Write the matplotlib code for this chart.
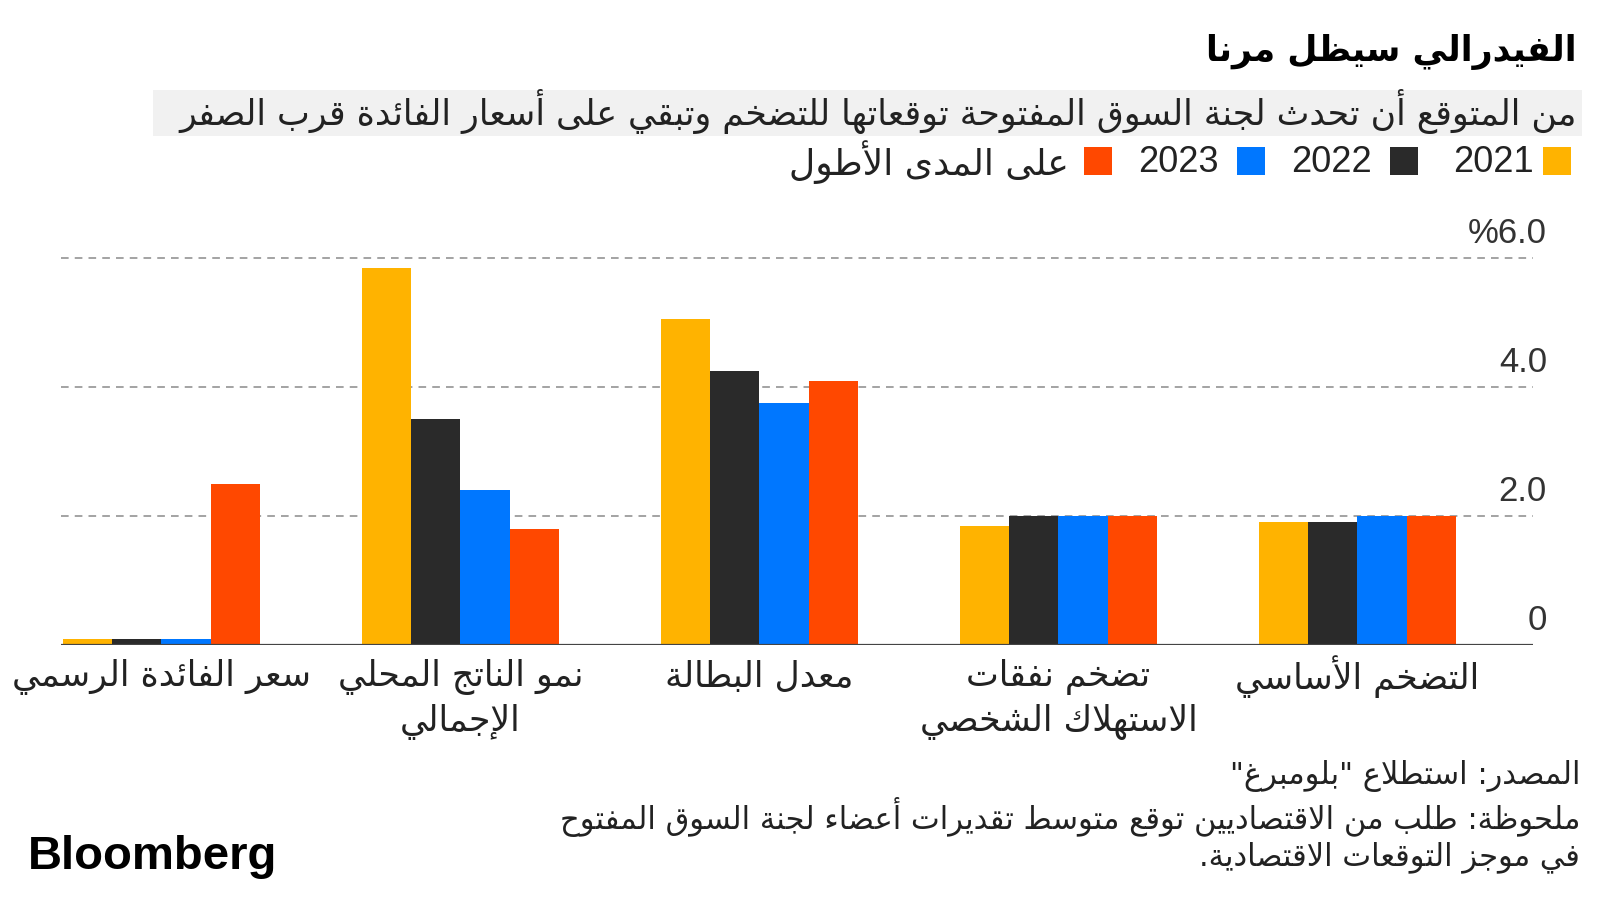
import re
import matplotlib
matplotlib.use("Agg")
import matplotlib.pyplot as plt
from matplotlib.patches import Rectangle
from matplotlib.transforms import blended_transform_factory

# ---- data -------------------------------------------------------------
categories = ["التضخم الأساسي", "تضخم نفقات\nالاستهلاك الشخصي", "معدل البطالة",
              "نمو الناتج المحلي\nالإجمالي", "سعر الفائدة الرسمي"]
y2021 = [1.9, 1.85, 5.05, 5.85, 0.1]
y2022 = [1.9, 2.0, 4.25, 3.5, 0.1]
y2023 = [2.0, 2.0, 3.75, 2.4, 0.1]
longer_run = [2.0, 2.0, 4.1, 1.8, 2.5]
series_names = ["2021", "2022", "2023", "على المدى الأطول"]
colors = ["#FFB300", "#2A2A2A", "#0077FF", "#FF4800"]
yticks = [0, 2, 4, 6]
ytick_labels = ["0", "2.0", "4.0", "%6.0"]

title = "الفيدرالي سيظل مرنا"
subtitle = "من المتوقع أن تُحدث لجنة السوق المفتوحة توقعاتها للتضخم وتبقي على أسعار الفائدة قرب الصفر"
source = "المصدر: استطلاع \"بلومبرغ\""
note1 = "ملحوظة: طُلب من الاقتصاديين توقع متوسط تقديرات أعضاء لجنة السوق المفتوح"
note2 = "في موجز التوقعات الاقتصادية."

# ---- minimal arabic shaping (presentation forms) + RTL ordering --------
_letters = [("ء", 0xFE80, "U"), ("آ", 0xFE81, "R"), ("أ", 0xFE83, "R"), ("ؤ", 0xFE85, "R"),
            ("إ", 0xFE87, "R"), ("ئ", 0xFE89, "D"), ("ا", 0xFE8D, "R"), ("ب", 0xFE8F, "D"),
            ("ة", 0xFE93, "R"), ("ت", 0xFE95, "D"), ("ث", 0xFE99, "D"), ("ج", 0xFE9D, "D"),
            ("ح", 0xFEA1, "D"), ("خ", 0xFEA5, "D"), ("د", 0xFEA9, "R"), ("ذ", 0xFEAB, "R"),
            ("ر", 0xFEAD, "R"), ("ز", 0xFEAF, "R"), ("س", 0xFEB1, "D"), ("ش", 0xFEB5, "D"),
            ("ص", 0xFEB9, "D"), ("ض", 0xFEBD, "D"), ("ط", 0xFEC1, "D"), ("ظ", 0xFEC5, "D"),
            ("ع", 0xFEC9, "D"), ("غ", 0xFECD, "D"), ("ف", 0xFED1, "D"), ("ق", 0xFED5, "D"),
            ("ك", 0xFED9, "D"), ("ل", 0xFEDD, "D"), ("م", 0xFEE1, "D"), ("ن", 0xFEE5, "D"),
            ("ه", 0xFEE9, "D"), ("و", 0xFEED, "R"), ("ى", 0xFEEF, "R"), ("ي", 0xFEF1, "D")]
BASE = {c: b for c, b, t in _letters}
JT = {c: t for c, b, t in _letters}
LAM_ALEF = {"آ": 0xFEF5, "أ": 0xFEF7, "إ": 0xFEF9, "ا": 0xFEFB}


def shape(s):
    s = "".join(c for c in s if not ("\u064B" <= c <= "\u0652"))
    units = []
    i = 0
    while i < len(s):
        if s[i] == "ل" and i + 1 < len(s) and s[i + 1] in LAM_ALEF:
            units.append(("LA", s[i + 1]))
            i += 2
        else:
            units.append(("C", s[i]))
            i += 1

    def jt(u):
        return "R" if u[0] == "LA" else JT.get(u[1])

    out = []
    for k, u in enumerate(units):
        t = jt(u)
        prev = jt(units[k - 1]) if k > 0 else None
        nxt = jt(units[k + 1]) if k + 1 < len(units) else None
        jp = prev == "D" and t in ("D", "R")
        jn = t == "D" and nxt in ("D", "R")
        if u[0] == "LA":
            out.append(chr(LAM_ALEF[u[1]] + (1 if jp else 0)))
        elif t is None:
            out.append(u[1])
        elif t == "U":
            out.append(chr(BASE[u[1]]))
        else:
            off = 3 if (jp and jn) else 2 if jn else 1 if jp else 0
            out.append(chr(BASE[u[1]] + off))
    return "".join(out)


def ar(s):
    runs = re.findall(r"[0-9]+|[^0-9]+", shape(s))
    return "".join(r if r.isdigit() else r[::-1] for r in reversed(runs))


# ---- figure -----------------------------------------------------------
W, H = 1600, 900
fig = plt.figure(figsize=(16, 9), dpi=100)
fig.patch.set_facecolor("white")


def fx(px):
    return px / W


def fy(py):
    return 1 - py / H


AR = ["DejaVu Sans"]
LAT = ["Liberation Sans", "DejaVu Sans"]
TXT = "#222222"

ax_l, ax_r, ax_t, ax_b = 61, 1533, 258, 645
ax = fig.add_axes([fx(ax_l), fy(ax_b), (ax_r - ax_l) / W, (ax_b - ax_t) / H])
ax.set_xlim(-0.336, 4.587)
ax.set_ylim(0, 6)
ax.axis("off")

n = len(categories)
xs = [n - 1 - i for i in range(n)]
w = 0.1646
for j, (vals, c) in enumerate(zip([y2021, y2022, y2023, longer_run], colors)):
    ax.bar([x + (j - 1.5) * w for x in xs], vals, width=w, color=c, zorder=2, linewidth=0)

for yv in yticks[1:]:
    ax.axhline(yv, color="#8a8a8a", lw=1.1, ls=(0, (5, 4)), zorder=1, clip_on=False)
ax.axhline(0, color="#444444", lw=1.6, zorder=3)

tr = blended_transform_factory(fig.transFigure, ax.transData)
for yv, lab in zip(yticks, ytick_labels):
    ax.text(fx(1547), yv + 0.24, lab, transform=tr, ha="right", va="baseline",
            fontsize=25, family=LAT, color="#333333")

trx = blended_transform_factory(ax.transData, fig.transFigure)
for x, cat in zip(xs, categories):
    for li, line in enumerate(cat.split("\n")):
        ax.text(x, fy(677 + 45 * li), ar(line), transform=trx, ha="center", va="center",
                fontsize=25, family=AR, color=TXT)

# title / subtitle
fig.text(fx(1577), fy(52), ar(title), ha="right", va="center", fontsize=25,
         fontweight="bold", family=AR, color="black")
fig.patches.append(Rectangle((fx(153), fy(136)), fx(1582 - 153), (136 - 90) / H,
                             transform=fig.transFigure, facecolor="#F1F1F1", edgecolor="none"))
fig.text(fx(1577), fy(112), ar(subtitle), ha="right", va="center", fontsize=25,
         family=AR, color=TXT)

# legend
sq = 28
legend_sq = [1543, 1390, 1237, 1084]
legend_txt = [1534, 1372, 1219, 1069]
for name, c, sx, tx in zip(series_names, colors, legend_sq, legend_txt):
    fig.patches.append(Rectangle((fx(sx), fy(161 + sq / 2)), sq / W, sq / H,
                                 transform=fig.transFigure, facecolor=c, edgecolor="none"))
    is_num = name.isdigit()
    fig.text(fx(tx), fy(162), name if is_num else ar(name), ha="right", va="center",
             fontsize=26, family=LAT if is_num else AR, color=TXT)

# footer
for py, s in zip([776, 817, 857], [source, note1, note2]):
    fig.text(fx(1580), fy(py), ar(s), ha="right", va="center", fontsize=22,
             family=AR, color=TXT)
fig.text(fx(28), fy(857), "Bloomberg", ha="left", va="center", fontsize=34,
         fontweight="bold", family=LAT, color="black")

fig.savefig("out.png", dpi=100)
